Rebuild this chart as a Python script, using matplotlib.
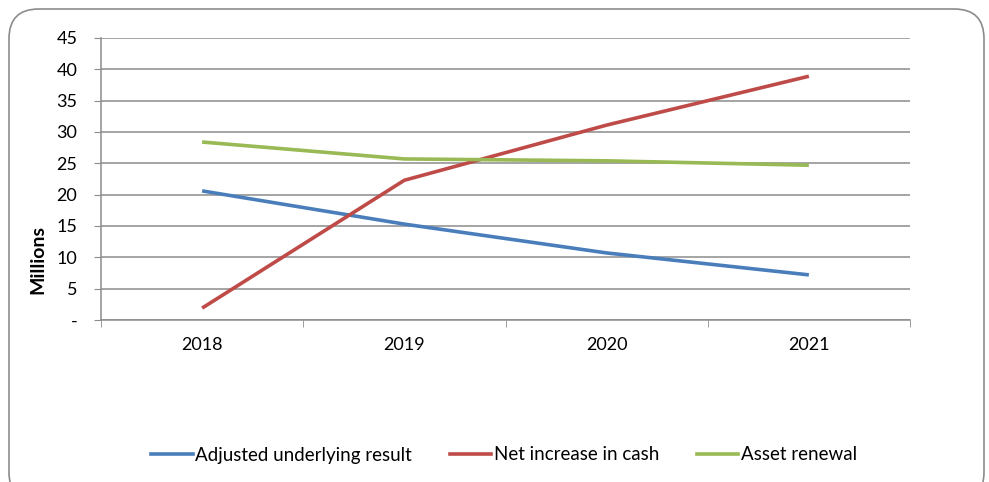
import matplotlib
matplotlib.use("Agg")
import matplotlib.pyplot as plt
from matplotlib.patches import FancyBboxPatch
from matplotlib.lines import Line2D

years = ["2018", "2019", "2020", "2021"]
adjusted_underlying = [20.6, 15.3, 10.7, 7.2]
net_increase_cash = [1.9, 22.3, 31.1, 38.9]
asset_renewal = [28.4, 25.7, 25.4, 24.7]

series_names = ["Adjusted underlying result", "Net increase in cash", "Asset renewal"]
series_colors = ["#4a7ebb", "#be4b48", "#98b954"]
y_ticks = [0, 5, 10, 15, 20, 25, 30, 35, 40, 45]
y_tick_labels = ["-"] + [str(v) for v in y_ticks[1:]]

plt.rcParams["font.family"] = ["Lato", "DejaVu Sans"]

W, H = 989, 482
fig = plt.figure(figsize=(W / 100, H / 100), dpi=100)
fig.patch.set_facecolor("white")

# rounded chart frame
frame = FancyBboxPatch((9 / W, -20 / H), 975 / W, (H - 9 + 20) / H,
                       boxstyle="round,pad=0,rounding_size=0.03",
                       transform=fig.transFigure, facecolor="none",
                       edgecolor="#8c8c8c", linewidth=1.2, mutation_aspect=W / H)
fig.patches.append(frame)

ax = fig.add_axes([101 / W, 1 - 320 / H, (910 - 101) / W, (320 - 38) / H])
x = list(range(len(years)))
for vals, col in zip([adjusted_underlying, net_increase_cash, asset_renewal], series_colors):
    ax.plot(x, vals, color=col, linewidth=2.6, solid_capstyle="butt", zorder=3)

ax.set_xlim(-0.5, len(years) - 0.5)
ax.set_ylim(0, 45)
ax.set_yticks(y_ticks)
ax.set_yticklabels(y_tick_labels)
ax.set_xticks(x)
ax.set_xticklabels(years)
ax.set_xticks([i - 0.5 for i in range(len(years) + 1)], minor=True)
ax.tick_params(axis="x", which="major", length=0, pad=12.5, labelsize=13)
ax.tick_params(axis="x", which="minor", length=5, color="#8c8c8c", direction="out")
ax.tick_params(axis="y", length=5, color="#8c8c8c", pad=12, labelsize=13)
ax.yaxis.grid(True, color="#8c8c8c", linewidth=1.1)
ax.set_axisbelow(True)
for side in ("top", "right"):
    ax.spines[side].set_visible(False)
for side in ("left", "bottom"):
    ax.spines[side].set_color("#8c8c8c")
    ax.spines[side].set_linewidth(1.1)
ax.set_ylabel("Millions", fontsize=14, fontweight="bold", va="center")
ax.yaxis.set_label_coords((38 - 101) / 809, (320 - 259) / 282)

handles = [Line2D([0], [0], color=c, linewidth=2.6) for c in series_colors]
fig.legend(handles, series_names, loc="center", bbox_to_anchor=(504 / W, 1 - 455 / H),
           ncol=3, frameon=False, fontsize=13.5, handlelength=2.2, handletextpad=0.15,
           columnspacing=2.0, borderpad=0, borderaxespad=0)

fig.savefig("out.png", dpi=100, facecolor="white")
